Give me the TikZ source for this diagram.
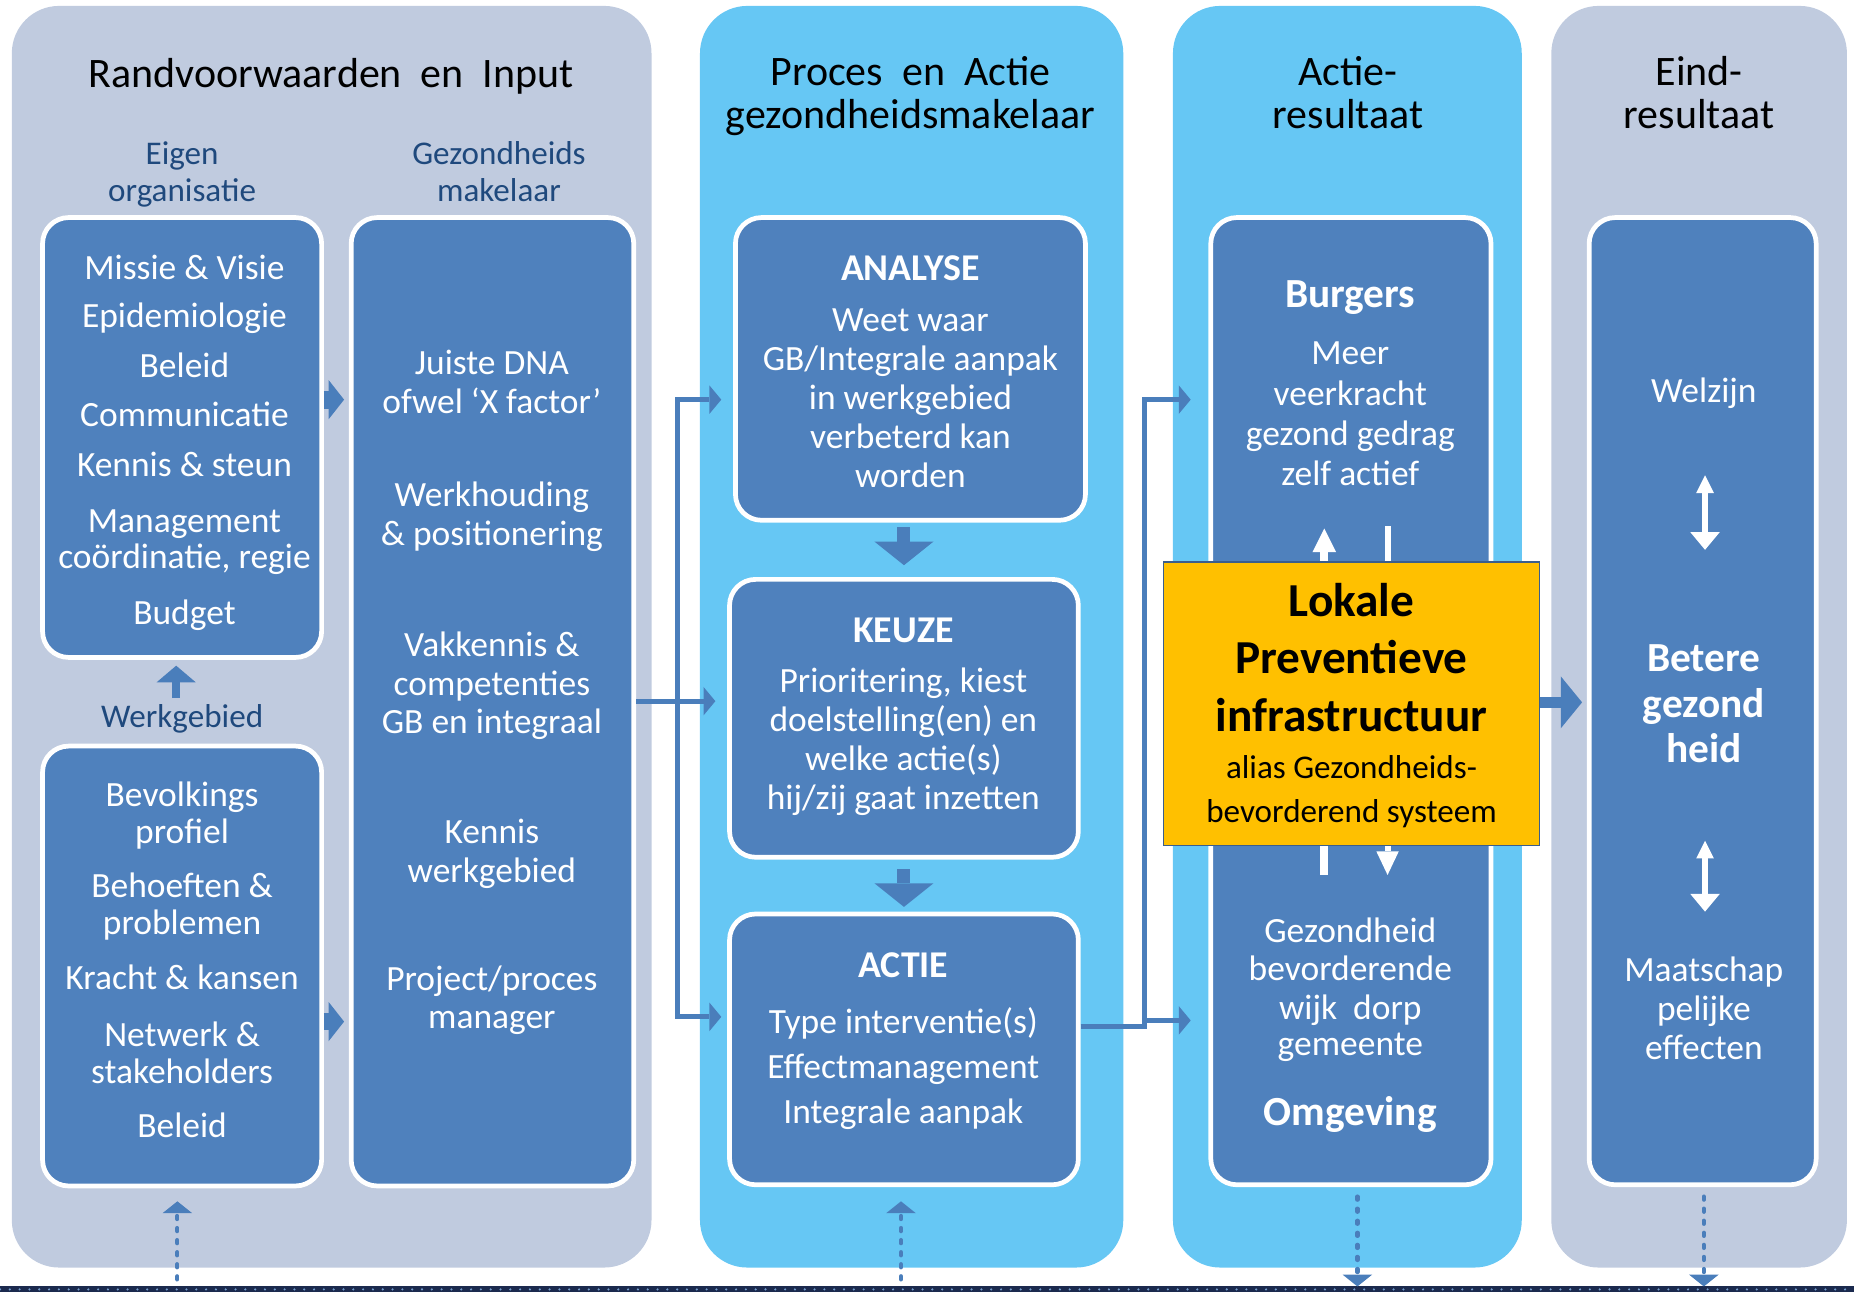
\documentclass[tikz,border=0pt]{standalone}
\usepackage{fontspec}
\setmainfont{Carlito}
\usetikzlibrary{arrows.meta}
\definecolor{pgray}{HTML}{C0CBDF}
\definecolor{pblue}{HTML}{66C7F4}
\definecolor{bblue}{HTML}{4F81BD}
\definecolor{lblue}{HTML}{1F497D}
\definecolor{orng}{HTML}{FFC000}
\definecolor{oedge}{HTML}{3B5E8C}
\definecolor{navy}{HTML}{1B2A4E}
\definecolor{abl}{HTML}{4A7EBB}
\begin{document}
\begin{tikzpicture}[x=1pt,y=-1pt,
  panelg/.style={fill=pgray,draw=none,rounded corners=40pt,inner sep=0pt,outer sep=0pt},
  panelb/.style={fill=pblue,draw=none,rounded corners=40pt,inner sep=0pt,outer sep=0pt},
  bx/.style={fill=bblue,draw=white,line width=4pt,rounded corners=22pt,inner sep=0pt},
  obx/.style={fill=orng,draw=oedge,line width=1.5pt,inner sep=0pt},
  wt/.style={text=white,font=\fontsize{30}{36}\selectfont,anchor=base,inner sep=0pt},
  wtb/.style={text=white,font=\fontsize{32}{38}\selectfont\bfseries,anchor=base,inner sep=0pt},
  wtc/.style={text=white,font=\fontsize{35}{40}\selectfont\bfseries,anchor=base,inner sep=0pt},
  ttl/.style={text=black,font=\fontsize{35.5}{40}\selectfont,anchor=base,inner sep=0pt},
  lab/.style={text=lblue,font=\fontsize{28}{33}\selectfont,anchor=base,inner sep=0pt},
  obt/.style={text=black,font=\fontsize{40}{46}\selectfont\bfseries,anchor=base,inner sep=0pt},
  ort/.style={text=black,font=\fontsize{28}{33}\selectfont,anchor=base,inner sep=0pt},
  conn/.style={draw=abl,line width=4.2pt,-{Triangle[length=10pt,width=24pt,line width=0pt]}},
  blk/.style={draw=abl},
  dots/.style={draw=abl,line width=3.6pt,line cap=round,dash pattern=on 2.6pt off 7.6pt},
  dtip/.style={-{Triangle[length=10pt,width=25pt,line width=0pt]}},
  wline/.style={draw=white}
]
\useasboundingbox (0,0) rectangle (1568,1092);
% background panels
\node[panelg,minimum width=541pt,minimum height=1067pt] (p1) at (280.5,538.5) {};
\node[panelb,minimum width=358pt,minimum height=1067pt] (p2) at (771,538.5) {};
\node[panelb,minimum width=295pt,minimum height=1067pt] (p3) at (1139.5,538.5) {};
\node[panelg,minimum width=250pt,minimum height=1067pt] (p4) at (1437,538.5) {};
% bottom bar
\node[fill=navy,minimum width=1568pt,minimum height=5pt,inner sep=0pt,outer sep=0pt] (bar) at (784,1090.5) {};
\draw[bblue!80!white,line width=2pt,line cap=round,dash pattern=on 0pt off 8.3pt] (bar.west) -- (bar.east);
% titles
\node[ttl] (h1) at (280,74) {Randvoorwaarden\ \ en\ \ Input};
\node[ttl] (h2a) at (770,72) {Proces\ \ en\ \ Actie};
\node[ttl] (h2b) at (770,109) {gezondheidsmakelaar};
\node[ttl] (h3a) at (1140,72) {Actie-};
\node[ttl] (h3b) at (1140,109) {resultaat};
\node[ttl] (h4a) at (1437,72) {Eind-};
\node[ttl] (h4b) at (1437,109) {resultaat};
% labels
\node[lab] (l1a) at (154,139) {Eigen};
\node[lab] (l1b) at (154,170) {organisatie};
\node[lab] (l2a) at (422,139) {Gezondheids};
\node[lab] (l2b) at (422,170) {makelaar};
\node[lab] (wgl) at (154,615) {Werkgebied};
% boxes
\node[bx,minimum width=236pt,minimum height=372pt] (b1) at (154,370) {};
\node[bx,minimum width=236pt,minimum height=372pt] (wg) at (154,817) {};
\node[bx,minimum width=239pt,minimum height=819pt] (mk) at (416.5,593.5) {};
\node[bx,minimum width=296pt,minimum height=256pt] (an) at (770,312) {};
\node[bx,minimum width=295pt,minimum height=235pt] (ke) at (764.5,607.5) {};
\node[bx,minimum width=295pt,minimum height=229pt] (ac) at (764.5,887.5) {};
\node[bx,minimum width=237pt,minimum height=818pt] (r3) at (1142.5,593) {};
\node[bx,minimum width=192pt,minimum height=818pt] (r4) at (1440,593) {};
% box 1 text
\node[wt] (t11) at (156,236) {Missie \& Visie};
\node[wt] (t12) at (156,277) {Epidemiologie};
\node[wt] (t13) at (156,319) {Beleid};
\node[wt] (t14) at (156,361) {Communicatie};
\node[wt] (t15) at (156,403) {Kennis \& steun};
\node[wt] (t16) at (156,450) {Management};
\node[wt] (t17) at (156,481) {coördinatie, regie};
\node[wt] (t18) at (156,528) {Budget};
% werkgebied text
\node[wt] (t21) at (154,682) {Bevolkings};
\node[wt] (t22) at (154,713) {profiel};
\node[wt] (t23) at (154,759) {Behoeften \&};
\node[wt] (t24) at (154,790) {problemen};
\node[wt] (t25) at (154,837) {Kracht \& kansen};
\node[wt] (t26) at (154,885) {Netwerk \&};
\node[wt] (t27) at (154,916) {stakeholders};
\node[wt] (t28) at (154,962) {Beleid};
% makelaar text
\node[wt] (t31) at (416,317) {Juiste DNA};
\node[wt] (t32) at (416,350) {ofwel ‘X factor’};
\node[wt] (t33) at (416,428) {Werkhouding};
\node[wt] (t34) at (416,461) {\& positionering};
\node[wt] (t35) at (416,555) {Vakkennis \&};
\node[wt] (t36) at (416,588) {competenties};
\node[wt] (t37) at (416,620) {GB en integraal};
\node[wt] (t38) at (416,713) {Kennis};
\node[wt] (t39) at (416,746) {werkgebied};
\node[wt] (t3a) at (416,838) {Project/proces};
\node[wt] (t3b) at (416,870) {manager};
% analyse
\node[wtb] (t41) at (770,237) {ANALYSE};
\node[wt] (t42) at (770,280) {Weet waar};
\node[wt] (t43) at (770,313) {GB/Integrale aanpak};
\node[wt] (t44) at (770,346) {in werkgebied};
\node[wt] (t45) at (770,379) {verbeterd kan};
\node[wt] (t46) at (770,412) {worden};
% keuze
\node[wtb] (t51) at (764,543) {KEUZE};
\node[wt] (t52) at (764,586) {Prioritering, kiest};
\node[wt] (t53) at (764,619) {doelstelling(en) en};
\node[wt] (t54) at (764,652) {welke actie(s)};
\node[wt] (t55) at (764,685) {hij/zij gaat inzetten};
% actie
\node[wtb] (t61) at (764,827) {ACTIE};
\node[wt] (t62) at (764,874) {Type interventie(s)};
\node[wt] (t63) at (764,912) {Effectmanagement};
\node[wt] (t64) at (764,950) {Integrale aanpak};
% column 3
\node[wtc] (t71) at (1142,260) {Burgers};
\node[wt] (t72) at (1142,308) {Meer};
\node[wt] (t73) at (1142,343) {veerkracht};
\node[wt] (t74) at (1142,377) {gezond gedrag};
\node[wt] (t75) at (1142,411) {zelf actief};
\node[wt] (t76) at (1142,797) {Gezondheid};
\node[wt] (t77) at (1142,829) {bevorderende};
\node[wt] (t78) at (1142,862) {wijk\ \ dorp};
\node[wt] (t79) at (1142,893) {gemeente};
\node[wtc] (t7a) at (1142,952) {Omgeving};
% column 4
\node[wt] (t81) at (1441,340) {Welzijn};
\node[wtc] (t82) at (1441,568) {Betere};
\node[wtc] (t83) at (1441,607) {gezond};
\node[wtc] (t84) at (1441,645) {heid};
\node[wt] (t85) at (1441,830) {Maatschap};
\node[wt] (t86) at (1441,863) {pelijke};
\node[wt] (t87) at (1441,896) {effecten};
% white arrows col 3
\coordinate (wu) at (1120,447);
\coordinate (wb) at (1173.5,445);
\coordinate (wl) at (1120,740);
\coordinate (wd) at (1173.5,740);
\coordinate (oc) at (1143,595);
\draw[wline,line width=7pt,-{Triangle[length=20pt,width=20pt,line width=0pt]}] (wu |- 0,476) -- (wu);
\draw[wline,line width=5pt] (wb |- 0,476) -- (wb);
\draw[wline,line width=7pt] (wl |- 0,714) -- (wl);
\draw[wline,line width=5pt,-{Triangle[length=20pt,width=19pt,line width=0pt]}] (wd |- 0,714) -- (wd);
% orange box
\node[obx,minimum width=318pt,minimum height=240pt] (or) at (oc) {};
\node[obt] (o1) at (1143,521) {Lokale};
\node[obt] (o2) at (1143,570) {Preventieve};
\node[obt] (o3) at (1143,619) {infrastructuur};
\node[ort] (o4) at (1143,658) {alias Gezondheids-};
\node[ort] (o5) at (1143,696) {bevorderend systeem};
% white double arrows col 4
\coordinate (da1) at (1442,402);
\coordinate (da2) at (1442,465);
\coordinate (da3) at (1442,711);
\coordinate (da4) at (1442,771);
\draw[wline,line width=5pt,{Triangle[length=15pt,width=15pt,line width=0pt]}-{Triangle[length=15pt,width=25pt,line width=0pt]}] (da1) -- (da2);
\draw[wline,line width=5pt,{Triangle[length=15pt,width=15pt,line width=0pt]}-{Triangle[length=15pt,width=25pt,line width=0pt]}] (da3) -- (da4);
% column 1 block arrows
\coordinate (ya) at (0,338);
\coordinate (yb) at (0,864);
\coordinate (xw) at (149,0);
\draw[blk,line width=15pt,-{Triangle[length=13pt,width=33pt,line width=0pt]},shorten >=4pt] (b1.east |- ya) -- (mk.west |- ya);
\draw[blk,line width=15pt,-{Triangle[length=13pt,width=33pt,line width=0pt]},shorten >=4pt] (wg.east |- yb) -- (mk.west |- yb);
\draw[blk,line width=7pt,-{Triangle[length=14pt,width=33pt,line width=0pt]},shorten <=5pt,shorten >=5pt] (wgl.north -| xw) -- (b1.south -| xw);
% col1 -> col2 connectors
\coordinate (j1) at (572.6,338);
\coordinate (j2) at (572.6,860);
\coordinate (jm) at (572.6,593);
\draw[conn,shorten >=10pt] (mk.east |- jm) -- (ke.west |- jm);
\draw[conn,{Triangle[length=10pt,width=24pt,line width=0pt]}-{Triangle[length=10pt,width=24pt,line width=0pt]},shorten <=5pt,shorten >=10pt] (ac.west |- j2) -- (j2) -- (j1) -- (an.west |- j1);
% down arrows col2
\draw[blk,line width=11pt,-{Triangle[length=20pt,width=50pt,line width=0pt]},shorten <=4pt,shorten >=10pt] (an.south -| ke.north) -- (ke.north);
\draw[blk,line width=11pt,-{Triangle[length=20pt,width=50pt,line width=0pt]},shorten <=8pt,shorten >=4pt] (ke.south) -- (ac.north);
% col2 -> col3 connectors
\coordinate (k1) at (968,338);
\coordinate (k2) at (968,868);
\coordinate (k3) at (968,863);
\draw[conn,shorten >=15pt] (ac.east |- k2) -- (k2) -- (k1) -- (r3.west |- k1);
\draw[conn,shorten >=15pt] (k3) -- (r3.west |- k3);
% col3 -> col4
\coordinate (yc) at (0,594);
\draw[blk,line width=9pt,-{Triangle[length=18pt,width=44pt,line width=0pt]},shorten >=4pt] (or.east |- yc) -- (r4.west |- yc);
% dotted arrows to and from the bar
\coordinate (x1) at (150,0);
\coordinate (x2) at (762,0);
\coordinate (x3) at (1148,0);
\coordinate (x4) at (1441,0);
\draw[dots,dtip,shorten <=6pt,shorten >=11pt] (bar.north -| x1) -- (wg.south -| x1);
\draw[dots,dtip,shorten <=6pt,shorten >=12pt] (bar.north -| x2) -- (ac.south -| x2);
\draw[dots,dtip,shorten <=8pt] (r3.south -| x3) -- (bar.north -| x3);
\draw[dots,dtip,shorten <=8pt] (r4.south -| x4) -- (bar.north -| x4);
\end{tikzpicture}
\end{document}
